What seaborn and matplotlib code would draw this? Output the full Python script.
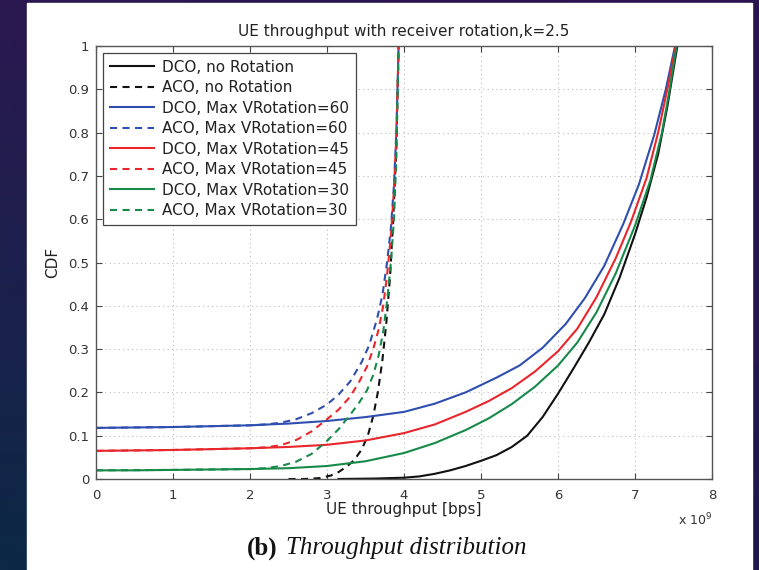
import numpy as np
import pandas as pd
import matplotlib
matplotlib.use("Agg")
import matplotlib.pyplot as plt
import seaborn as sns

# -------------------------------
# Data (throughput in units of 1e9 bps)
# -------------------------------
labels = [
    "DCO, no Rotation",
    "ACO, no Rotation",
    "DCO, Max VRotation=60",
    "ACO, Max VRotation=60",
    "DCO, Max VRotation=45",
    "ACO, Max VRotation=45",
    "DCO, Max VRotation=30",
    "ACO, Max VRotation=30",
]

dco_norot_x = [3.15, 3.6, 4.0, 4.2, 4.4, 4.6, 4.8, 5.0, 5.2, 5.4, 5.6, 5.8, 6.0, 6.2, 6.4,
               6.6, 6.8, 7.0, 7.15, 7.3, 7.42, 7.55]
dco_norot_y = [0.0, 0.001, 0.003, 0.006, 0.012, 0.02, 0.03, 0.042, 0.055, 0.074, 0.1, 0.143,
               0.197, 0.255, 0.315, 0.38, 0.465, 0.565, 0.65, 0.75, 0.86, 1.0]

aco_norot_x = [2.5, 2.7, 2.9, 3.05, 3.15, 3.25, 3.35, 3.45, 3.53, 3.6, 3.66, 3.72, 3.77, 3.82,
               3.86, 3.9, 3.93]
aco_norot_y = [0.0, 0.0, 0.002, 0.008, 0.016, 0.028, 0.043, 0.068, 0.1, 0.145, 0.2, 0.275,
               0.36, 0.47, 0.6, 0.76, 1.0]

dco_60_x = [0, 0.5, 1, 1.5, 2, 2.5, 3, 3.5, 4, 4.4, 4.8, 5.2, 5.5, 5.8, 6.1, 6.35, 6.6, 6.85,
            7.05, 7.25, 7.4, 7.52]
dco_60_y = [0.118, 0.119, 0.12, 0.122, 0.124, 0.128, 0.134, 0.143, 0.155, 0.174, 0.2, 0.234,
            0.262, 0.303, 0.358, 0.418, 0.492, 0.59, 0.68, 0.795, 0.9, 1.0]

aco_60_x = [0, 1, 2, 2.2, 2.4, 2.6, 2.8, 3.0, 3.15, 3.3, 3.45, 3.55, 3.65, 3.72, 3.78, 3.83,
            3.87, 3.9, 3.93]
aco_60_y = [0.118, 0.12, 0.124, 0.126, 0.13, 0.138, 0.152, 0.172, 0.195, 0.225, 0.27, 0.31,
            0.37, 0.425, 0.5, 0.58, 0.68, 0.8, 1.0]

dco_45_x = [0, 0.5, 1, 1.5, 2, 2.5, 3, 3.5, 4, 4.4, 4.8, 5.1, 5.4, 5.7, 6.0, 6.25, 6.5, 6.75,
            6.95, 7.15, 7.3, 7.42, 7.53]
dco_45_y = [0.065, 0.066, 0.067, 0.069, 0.071, 0.074, 0.079, 0.089, 0.106, 0.126, 0.155, 0.18,
            0.21, 0.248, 0.295, 0.347, 0.42, 0.51, 0.595, 0.695, 0.8, 0.9, 1.0]

aco_45_x = [0, 1, 2, 2.2, 2.4, 2.6, 2.8, 3.0, 3.15, 3.3, 3.42, 3.52, 3.6, 3.67, 3.73, 3.78,
            3.83, 3.87, 3.9, 3.93]
aco_45_y = [0.065, 0.067, 0.071, 0.073, 0.078, 0.09, 0.11, 0.138, 0.16, 0.19, 0.225, 0.26,
            0.3, 0.345, 0.4, 0.47, 0.56, 0.67, 0.79, 1.0]

dco_30_x = [0, 0.5, 1, 1.5, 2, 2.5, 3, 3.5, 4, 4.4, 4.8, 5.1, 5.4, 5.7, 6.0, 6.25, 6.5, 6.75,
            7.0, 7.2, 7.35, 7.45, 7.54]
dco_30_y = [0.02, 0.02, 0.021, 0.022, 0.023, 0.025, 0.03, 0.041, 0.06, 0.083, 0.113, 0.14,
            0.173, 0.213, 0.262, 0.315, 0.385, 0.475, 0.585, 0.69, 0.8, 0.9, 1.0]

aco_30_x = [0, 1, 2, 2.2, 2.4, 2.6, 2.8, 3.0, 3.15, 3.3, 3.42, 3.52, 3.6, 3.67, 3.73, 3.78,
            3.83, 3.87, 3.9, 3.93]
aco_30_y = [0.02, 0.021, 0.023, 0.025, 0.03, 0.04, 0.058, 0.088, 0.115, 0.148, 0.177, 0.205,
            0.24, 0.285, 0.34, 0.41, 0.5, 0.6, 0.74, 1.0]

xs = [dco_norot_x, aco_norot_x, dco_60_x, aco_60_x, dco_45_x, aco_45_x, dco_30_x, aco_30_x]
ys = [dco_norot_y, aco_norot_y, dco_60_y, aco_60_y, dco_45_y, aco_45_y, dco_30_y, aco_30_y]

colors = ["#111111", "#111111", "#2f4fb0", "#2f4fb0", "#e8262b", "#e8262b", "#178a4a", "#178a4a"]
dash = (0, (3.4, 2.6))
styles = ["-", dash, "-", dash, "-", dash, "-", dash]

xticks = [0, 1, 2, 3, 4, 5, 6, 7, 8]
yticks = [0, 0.1, 0.2, 0.3, 0.4, 0.5, 0.6, 0.7, 0.8, 0.9, 1]
ytick_labels = ["0", "0.1", "0.2", "0.3", "0.4", "0.5", "0.6", "0.7", "0.8", "0.9", "1"]

# -------------------------------
# Figure with slide background
# -------------------------------
W, H = 759, 570
fig = plt.figure(figsize=(W / 100, H / 100), dpi=100)

bg = fig.add_axes([0, 0, 1, 1])
tl = np.array([42, 24, 80]) / 255
tr = np.array([44, 20, 78]) / 255
bl = np.array([12, 40, 70]) / 255
br = np.array([30, 26, 74]) / 255
u = np.linspace(0, 1, 64)[None, :, None]
v = np.linspace(0, 1, 64)[:, None, None]
grad = (1 - v) * ((1 - u) * tl + u * tr) + v * ((1 - u) * bl + u * br)
bg.imshow(grad, aspect="auto", extent=[0, 1, 0, 1], origin="upper")
bg.add_patch(plt.Rectangle((27 / W, 0), (752 - 27) / W, (H - 3) / H, color="white"))
bg.set_xlim(0, 1)
bg.set_ylim(0, 1)
bg.axis("off")

ax = fig.add_axes([96 / W, (H - 479) / H, 616 / W, 433 / H])
ax.set_facecolor("white")

for lab, x, y, c, ls in zip(labels, xs, ys, colors, styles):
    sns.lineplot(x=x, y=y, ax=ax, color=c, linestyle=ls, linewidth=1.5,
                 label=lab, estimator=None, sort=False)

ax.set_xlim(0, 8)
ax.set_ylim(0, 1)
ax.set_xticks(xticks)
ax.set_yticks(yticks)
ax.set_yticklabels(ytick_labels)
ax.grid(True, linestyle=(0, (1, 3)), color="#bdbdbd", linewidth=0.8)
ax.tick_params(direction="in", length=4, top=True, right=True, labelsize=9.5,
               colors="#444444", labelcolor="#333333", pad=5)
ax.tick_params(axis="x", pad=7)
for s in ax.spines.values():
    s.set_color("#555555")
    s.set_linewidth(1.0)

ax.set_title("UE throughput with receiver rotation,k=2.5", fontsize=11, color="#222222", pad=7)
ax.set_xlabel("UE throughput [bps]", fontsize=11, color="#222222", labelpad=0)
ax.set_ylabel("CDF", fontsize=11, color="#222222", labelpad=6)
ax.text(1.0, -0.095, r"x 10$^{9}$", transform=ax.transAxes, ha="right", va="center",
        fontsize=9, color="#333333")

leg = ax.legend(loc="upper left", bbox_to_anchor=(0.011, 0.984), borderaxespad=0,
                fontsize=11, handlelength=2.9, handletextpad=0.55, labelspacing=0.36,
                borderpad=0.45, fancybox=False, framealpha=1, edgecolor="#444444")
leg.get_frame().set_linewidth(0.9)
for t in leg.get_texts():
    t.set_color("#222222")

fig.text(277 / W, 22 / H, "(b)", fontsize=18, ha="right", va="center",
         family="Liberation Serif", weight="bold", color="#111111")
fig.text(286 / W, 22 / H, "Throughput distribution", fontsize=18, ha="left", va="center",
         family="Liberation Serif", style="italic", color="#111111")

plt.savefig("out.png", dpi=100)
